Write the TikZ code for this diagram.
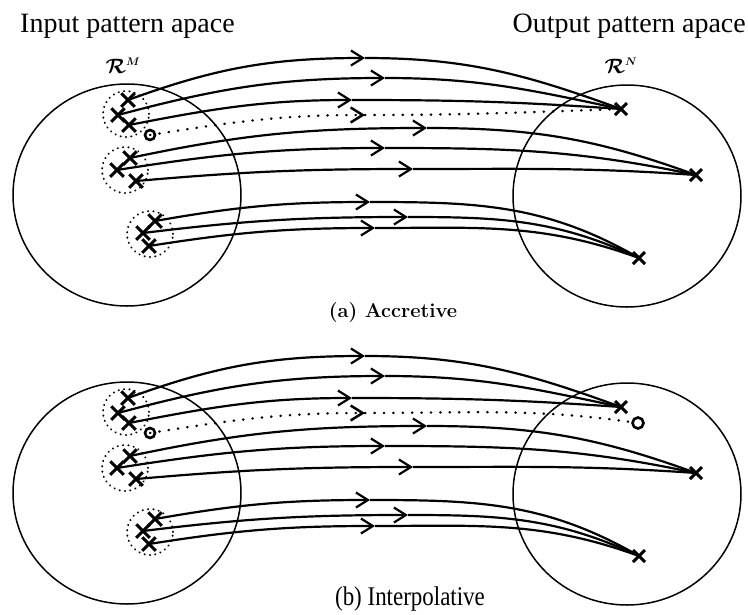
\documentclass[tikz,border=0pt]{standalone}
\usepackage{fontspec}
\usepackage{graphicx}
\newfontfamily\timesfont{Liberation Serif}
\usetikzlibrary{arrows.meta,shapes.misc,shapes.geometric}

\tikzset{
  space/.style={draw, ellipse, line width=1.5pt, minimum width=228pt, minimum height=222pt, inner sep=0pt},
  cluster/.style={draw, circle, dash pattern=on 0.4pt off 5pt, line cap=round, line width=1.9pt, minimum size=46pt, inner sep=0pt},
  xmark/.style={draw, cross out, line width=3pt, minimum size=10.5pt, inner sep=0pt},
  tmark/.style={draw, cross out, line width=3pt, minimum size=9pt, inner sep=0pt},
  omark/.style={draw, circle, line width=2.6pt, minimum size=10pt, inner sep=0pt},
  flow/.style={line width=2.2pt},
  dotline/.style={dash pattern=on 0.4pt off 9pt, line cap=round, line width=2.5pt},
  >={Straight Barb[length=12pt,width=15pt]},
  title/.style={font=\timesfont\fontsize{28}{30}\selectfont, inner sep=0pt},
  spacelabel/.style={font=\fontsize{21}{24}\selectfont\boldmath, inner sep=0pt},
}

% one connector: start -> mid arrow head -> end
\newcommand\flowpath[6][]{%
  \draw[flow,#1,->] (#2) to[out=#3,in=180] (#4);
  \draw[flow,#1] (#4) to[out=0,in=#5] (#6);}

% everything the two panels have in common
\newcommand\panelcontent{%
  \node[space] (inspace) at (127,-195) {};
  \node[space] (outspace) at (627,-196) {};
  \node[cluster] (g1) at (126,-114) {};
  \node[cluster] (g2) at (125,-170) {};
  \node[cluster] (g3) at (150,-234) {};
  \node[xmark] (a1) at (128,-100) {};
  \node[xmark] (a2) at (118,-115) {};
  \node[xmark] (a3) at (129,-125) {};
  \node[omark] (o1) at (150,-135) {};
  \node[xmark] (b1) at (130,-158) {};
  \node[xmark] (b2) at (117,-170) {};
  \node[xmark] (b3) at (136,-181) {};
  \node[xmark] (c1) at (155,-221) {};
  \node[xmark] (c2) at (143,-233) {};
  \node[xmark] (c3) at (149,-246) {};
  \node[tmark] (t1) at (621,-109) {};
  \node[tmark] (t2) at (696,-175) {};
  \node[tmark] (t3) at (639,-258) {};
  \coordinate (ma1) at (365,-58);
  \coordinate (ma2) at (385,-78);
  \coordinate (ma3) at (352,-100);
  \coordinate (md) at (365,-115);
  \coordinate (mb1) at (427,-128);
  \coordinate (mb2) at (385,-148);
  \coordinate (mb3) at (413,-169);
  \coordinate (mc1) at (370,-202);
  \coordinate (mc2) at (408,-217);
  \coordinate (mc3) at (375,-228);
  \flowpath{a1.center}{20}{ma1}{160}{t1.center}
  \flowpath{a2.center}{15}{ma2}{168}{t1.center}
  \flowpath{a3.center}{11}{ma3}{176}{t1.center}
  \flowpath{b1.center}{12}{mb1}{160}{t2.center}
  \flowpath{b2.center}{9}{mb2}{168}{t2.center}
  \flowpath{b3.center}{5}{mb3}{176}{t2.center}
  \flowpath{c1.center}{10}{mc1}{150}{t3.center}
  \flowpath{c2.center}{7}{mc2}{155}{t3.center}
  \flowpath{c3.center}{9}{mc3}{160}{t3.center}
}

\begin{document}
\begin{tikzpicture}[x=1pt,y=1pt]
  \fill[white] (0,0) rectangle (748,-614);
  \useasboundingbox (0,0) rectangle (748,-614);

  \node[title, anchor=base west] (intitle) at (20,-32) {Input pattern apace};
  \node[title, anchor=base east] (outtitle) at (746,-32) {Output pattern apace};

  % (a) accretive
  \begin{scope}[name prefix=a-]
    \panelcontent
    \node[spacelabel] (rm) at (123,-66) {$\mathcal{R}^{\scriptscriptstyle M}$};
    \node[spacelabel] (rn) at (621,-66) {$\mathcal{R}^{\scriptscriptstyle N}$};
    \flowpath[dotline]{o1.center}{9}{md}{182}{t1.center}
    \node[anchor=base, inner sep=0pt, font=\fontsize{20}{22}\selectfont\bfseries] (cap) at (393,-317) {(a) Accretive};
  \end{scope}

  % (b) interpolative
  \begin{scope}[name prefix=b-, yshift=-298pt]
    \panelcontent
    \node[omark, minimum size=11pt] (ot) at (638,-125) {};
    \flowpath[dotline]{o1.center}{9}{md}{172}{ot}
  \end{scope}
  \node[anchor=base, inner sep=0pt, font=\timesfont\fontsize{27}{29}\selectfont] (capb) at (410,-605) {\scalebox{0.85}[1]{(b) Interpolative}};
\end{tikzpicture}
\end{document}
